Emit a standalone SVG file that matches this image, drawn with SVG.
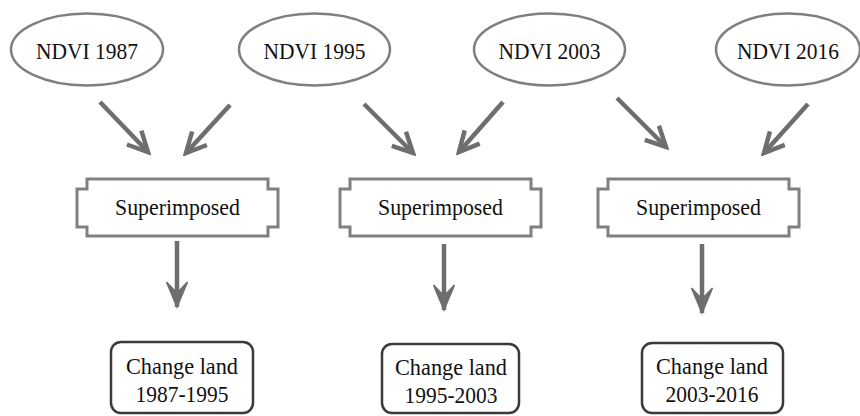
<svg xmlns="http://www.w3.org/2000/svg" width="860" height="416" viewBox="0 0 860 416">
<style>
  .ell { fill: #fff; stroke: #7f7f7f; stroke-width: 2.5; }
  .sup { fill: #fff; stroke: #808080; stroke-width: 3; }
  .chg { fill: #fff; stroke: #3a3a3a; stroke-width: 2.5; }
  .t { font-family: "Liberation Serif", "Times New Roman", serif; font-size: 23px; fill: #111; text-anchor: middle; }
  .conn line { stroke: #6e6e6e; stroke-width: 4.5; }
</style>
<defs>
  <marker id="open" markerUnits="userSpaceOnUse" viewBox="0 0 26 26" refX="22" refY="13" markerWidth="26" markerHeight="26" orient="auto">
    <path d="M2,3 L22,13 L2,23" fill="none" stroke="#6e6e6e" stroke-width="4.5"/>
  </marker>
  <marker id="solid" markerUnits="userSpaceOnUse" viewBox="0 0 28 24" refX="26" refY="12" markerWidth="28" markerHeight="24" orient="auto">
    <path d="M26,12 L1,1.5 L12,12 L1,22.5 Z" fill="#6e6e6e" stroke="#6e6e6e" stroke-width="1.5" stroke-linejoin="miter"/>
  </marker>
</defs>
<rect width="860" height="416" fill="#fff"/>

<g id="ndvi1987"><ellipse class="ell" cx="87" cy="49.5" rx="76" ry="36"/><text class="t" x="87" y="59" textLength="102" lengthAdjust="spacingAndGlyphs">NDVI 1987</text></g>
<g id="ndvi1995"><ellipse class="ell" cx="314.5" cy="49.5" rx="75.5" ry="36"/><text class="t" x="314.5" y="59" textLength="102" lengthAdjust="spacingAndGlyphs">NDVI 1995</text></g>
<g id="ndvi2003"><ellipse class="ell" cx="549.5" cy="49.5" rx="75.5" ry="36"/><text class="t" x="549.5" y="59" textLength="102" lengthAdjust="spacingAndGlyphs">NDVI 2003</text></g>
<g id="ndvi2016"><ellipse class="ell" cx="788" cy="49.5" rx="72" ry="36"/><text class="t" x="788" y="59" textLength="102" lengthAdjust="spacingAndGlyphs">NDVI 2016</text></g>

<g id="sup1"><path class="sup" d="M87,179 H268 V189 H278 V227 H268 V236 H87 V227 H77 V189 H87 Z"/><text class="t" x="177.5" y="215" textLength="125" lengthAdjust="spacingAndGlyphs">Superimposed</text></g>
<g id="sup2"><path class="sup" d="M350,179 H531 V189 H541 V227 H531 V236 H350 V227 H340 V189 H350 Z"/><text class="t" x="440.5" y="215" textLength="125" lengthAdjust="spacingAndGlyphs">Superimposed</text></g>
<g id="sup3"><path class="sup" d="M608,179 H789 V189 H799 V227 H789 V236 H608 V227 H598 V189 H608 Z"/><text class="t" x="698.5" y="215" textLength="125" lengthAdjust="spacingAndGlyphs">Superimposed</text></g>

<g id="chg1"><rect class="chg" x="111" y="342" width="142" height="71" rx="10"/><text class="t" x="182" y="374" textLength="112" lengthAdjust="spacingAndGlyphs">Change land</text><text class="t" x="182" y="402" textLength="93" lengthAdjust="spacingAndGlyphs">1987-1995</text></g>
<g id="chg2"><rect class="chg" x="382" y="344" width="137" height="69" rx="10"/><text class="t" x="451" y="375" textLength="112" lengthAdjust="spacingAndGlyphs">Change land</text><text class="t" x="451" y="403" textLength="93" lengthAdjust="spacingAndGlyphs">1995-2003</text></g>
<g id="chg3"><rect class="chg" x="642" y="343" width="141" height="70" rx="10"/><text class="t" x="712" y="374" textLength="112" lengthAdjust="spacingAndGlyphs">Change land</text><text class="t" x="712" y="402" textLength="93" lengthAdjust="spacingAndGlyphs">2003-2016</text></g>

<g id="connectors" class="conn">
  <line x1="100" y1="102" x2="148" y2="152" marker-end="url(#open)"/>
  <line x1="230" y1="105" x2="186" y2="153" marker-end="url(#open)"/>
  <line x1="364" y1="104" x2="413" y2="153" marker-end="url(#open)"/>
  <line x1="503" y1="102" x2="459" y2="152" marker-end="url(#open)"/>
  <line x1="617" y1="98" x2="666" y2="147" marker-end="url(#open)"/>
  <line x1="808" y1="104" x2="764" y2="153" marker-end="url(#open)"/>
  <line x1="177" y1="241" x2="177" y2="307" marker-end="url(#solid)"/>
  <line x1="444" y1="244" x2="444" y2="310" marker-end="url(#solid)"/>
  <line x1="702" y1="244" x2="702" y2="313" marker-end="url(#solid)"/>
</g>
</svg>
